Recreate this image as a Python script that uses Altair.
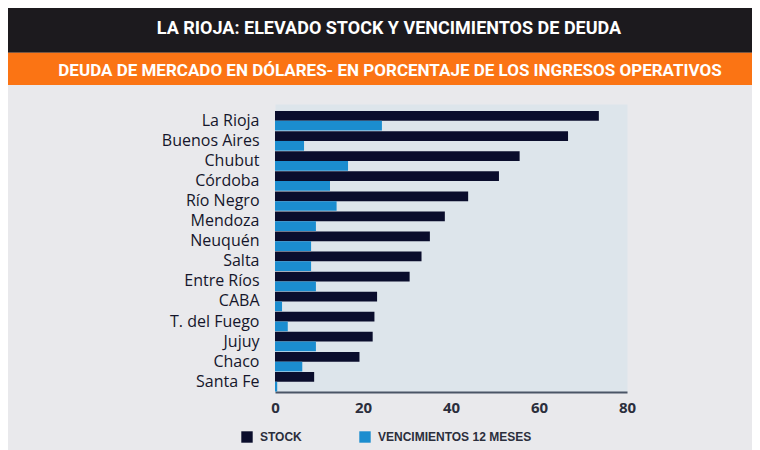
import altair as alt
import pandas as pd

provincias = ["La Rioja", "Buenos Aires", "Chubut", "Córdoba", "Río Negro", "Mendoza",
              "Neuquén", "Salta", "Entre Ríos", "CABA", "T. del Fuego", "Jujuy", "Chaco", "Santa Fe"]
stock = [73.6, 66.6, 55.6, 50.9, 43.9, 38.6, 35.2, 33.3, 30.6, 23.2, 22.6, 22.2, 19.2, 8.9]
vencimientos = [24.3, 6.6, 16.6, 12.5, 14.0, 9.3, 8.2, 8.2, 9.3, 1.6, 2.9, 9.3, 6.2, 0.5]
series = ["STOCK", "VENCIMIENTOS 12 MESES"]
colores = ["#0a0d2c", "#1b8dcf"]
x_ticks = [0, 20, 40, 60, 80]

titulo = "LA RIOJA: ELEVADO STOCK Y VENCIMIENTOS DE DEUDA"
subtitulo = "DEUDA DE MERCADO EN DÓLARES- EN PORCENTAJE DE LOS INGRESOS OPERATIVOS"

rows = []
for p, s, v in zip(provincias, stock, vencimientos):
    rows.append({"provincia": p, "serie": series[0], "valor": s})
    rows.append({"provincia": p, "serie": series[1], "valor": v})
df = pd.DataFrame(rows)

W, H = 352, 288
one = pd.DataFrame({"k": [0]})
cond_font = "Roboto"

dark_band = alt.Chart(one).mark_rect(color="#1c1a1e").encode(
    x=alt.value(-267), x2=alt.value(W + 125), y=alt.value(-96), y2=alt.value(-51.3))
orange_band = alt.Chart(one).mark_rect(color="#fb7414").encode(
    x=alt.value(-267), x2=alt.value(W + 125), y=alt.value(-51.3), y2=alt.value(-19))
title_txt = alt.Chart(one).mark_text(
    text=titulo, font=cond_font, fontSize=18, fontWeight="bold", color="white",
    align="center", baseline="middle").encode(x=alt.value(114), y=alt.value(-75.5))
subtitle_txt = alt.Chart(one).mark_text(
    text=subtitulo, font=cond_font, fontSize=17, fontWeight="bold", color="white",
    align="center", baseline="middle").encode(x=alt.value(115), y=alt.value(-33.5))

bars = alt.Chart(df).mark_bar().encode(
    x=alt.X("valor:Q", scale=alt.Scale(domain=[0, 80], nice=False),
            axis=alt.Axis(values=x_ticks, title=None, grid=False, ticks=False,
                          domainColor="#4a5566", domainWidth=2, labelFlush=False,
                          labelFont="Open Sans", labelFontSize=15, labelFontWeight="bold",
                          labelColor="#2b2e3c", labelPadding=8)),
    y=alt.Y("provincia:N", sort=provincias,
            scale=alt.Scale(paddingInner=0, paddingOuter=0.175, align=0.97),
            axis=alt.Axis(title=None, domain=False, ticks=False, labelFont="Open Sans",
                          labelFontSize=16, labelColor="#15162b", labelPadding=16)),
    yOffset=alt.YOffset("serie:N", sort=series,
                        scale=alt.Scale(paddingInner=0, paddingOuter=0.03)),
    color=alt.Color("serie:N", sort=series,
                    scale=alt.Scale(domain=series, range=colores),
                    legend=alt.Legend(title=None, orient="none", legendX=-34, legendY=327,
                                      direction="horizontal", symbolType="square",
                                      symbolSize=130, symbolStrokeWidth=0,
                                      labelFont="Liberation Sans", labelFontSize=12,
                                      labelFontWeight="bold", labelColor="#2b2e3c",
                                      labelOffset=7, columnPadding=57)),
)

chart = alt.layer(dark_band, orange_band, title_txt, subtitle_txt, bars).properties(
    width=W, height=H,
    autosize=alt.AutoSizeParams(type="none"),
    padding={"left": 267, "top": 96, "right": 125, "bottom": 58},
    background="#e9e9ec",
).configure_view(fill="#dde5eb", stroke="transparent")

chart.save("out.html", embed_options={"renderer": "svg", "actions": False})
